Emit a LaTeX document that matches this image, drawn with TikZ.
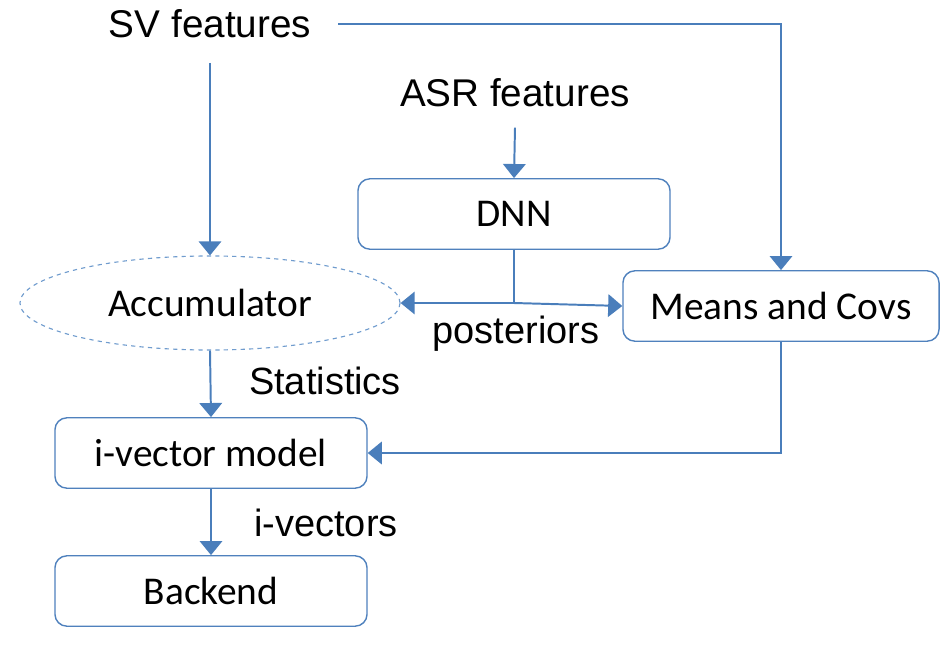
\documentclass[tikz,border=0pt]{standalone}
\usepackage{fontspec}
\setmainfont{Liberation Sans}
\newfontfamily\boxfont{Carlito}
\usetikzlibrary{positioning, arrows.meta, calc, shapes.geometric}
\definecolor{cflow}{RGB}{74,126,187}
\definecolor{cbox}{RGB}{79,129,189}
\definecolor{cacc}{RGB}{112,156,206}

\begin{document}
\begin{tikzpicture}[x=0.025cm, y=-0.025cm, >={Triangle[width=16pt, length=10pt]},
    block/.style={draw=cbox, line width=1pt, rounded corners=8.5pt, fill=white,
      minimum width=7.8cm, minimum height=1.76cm, align=center,
      font=\boxfont\fontsize{28}{33}\selectfont},
    accbox/.style={ellipse, draw=cacc, dashed, line width=0.8pt, fill=white,
      minimum width=9.5cm, minimum height=2.35cm, inner sep=0pt,
      font=\boxfont\fontsize{28}{33}\selectfont},
    feat/.style={font=\fontsize{27.5}{32}\selectfont},
    lbl/.style={font=\fontsize{27}{32}\selectfont},
    flow/.style={->, draw=cflow, line width=1.4pt}]

  \useasboundingbox (0,0) rectangle (949,645);

  % --- Entradas ---
  \node[feat] (sv) at (210,24) {SV features};
  \node[feat] (asr) at (515,93) {ASR features};

  % --- Bloques ---
  \node[block] (dnn) at (514,214) {DNN};
  \node[block, minimum width=7.9cm] (means) at (781,306) {Means and Covs};
  \node[accbox] (acc) at (210,303) {Accumulator};
  \node[block] (ivec) at (211,453) {i-vector model};
  \node[block] (back) at (211,591) {Backend};

  % --- Conexiones ---
  \draw[flow] ([yshift=-14pt]sv.south) -- (acc.north);
  \draw[flow] ([xshift=16pt]sv.east) -| (means.north);
  \draw[flow] ([yshift=-11pt]asr.south) -- (dnn.north);

  \coordinate (split) at (514,303);
  \draw[draw=cflow, line width=1.4pt] (dnn.south) -- (split);
  \draw[flow] (split) -- (acc.east);
  \draw[flow] (split) -- (means.west);
  \node[lbl] (post) at (516,334) {posteriors};

  \draw[flow] (acc.south) -- (ivec.north);
  \node[lbl] (stats) at (325,381) {Statistics};
  \draw[flow] (means.south) |- (ivec.east);

  \draw[flow] (ivec.south) -- (back.north);
  \node[lbl] (ivs) at (326,523) {i-vectors};
\end{tikzpicture}
\end{document}
